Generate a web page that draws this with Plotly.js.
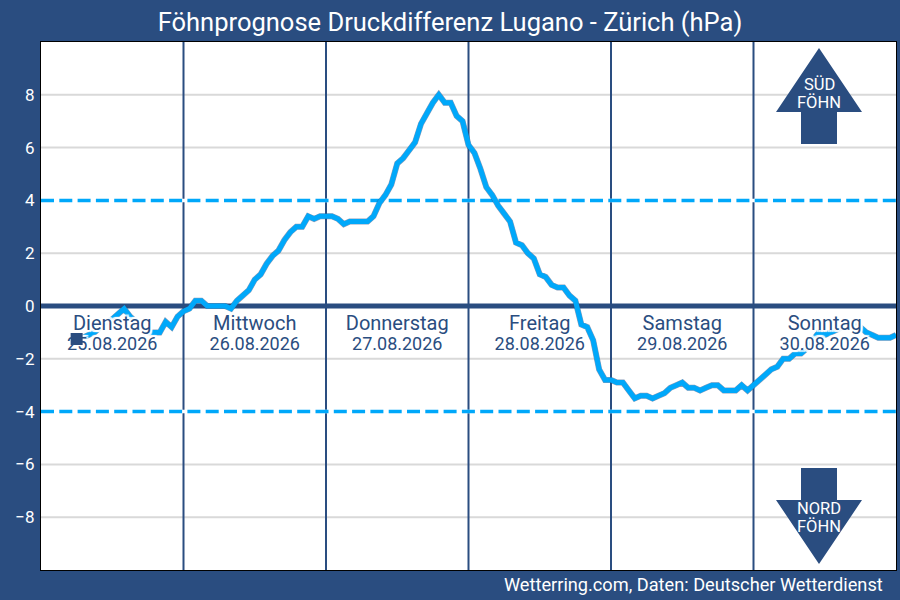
<!DOCTYPE html>
<html>
<head>
<meta charset="utf-8">
<script src="https://cdn.plot.ly/plotly-3.0.1.min.js"></script>
<style>html,body{margin:0;padding:0;background:#2a4d80;}</style>
</head>
<body>
<div id="chart" style="width:900px;height:600px;"></div>
<script>
// hours since Monday 24.08. 00:00, hourly forecast
let hours = [];
for (let h = 6; h <= 144; h++) hours.push(h);
let pressureDiff = [
    -1.25, -1.2, -1.1, -1.0, -0.8, -0.6, -0.5, -0.3, -0.1, -0.4, -0.6, -0.8, -1.0, -1.0, -1.0, -0.6, -0.8, -0.4,
    -0.2, -0.1, 0.2, 0.2, 0.0, 0.0, 0.0, 0.0, -0.1, 0.2, 0.4, 0.6, 1.0, 1.2, 1.6, 1.9, 2.1, 2.5, 2.8, 3.0, 3.0, 3.4, 3.3, 3.4,
    3.4, 3.4, 3.3, 3.1, 3.2, 3.2, 3.2, 3.2, 3.4, 3.9, 4.2, 4.6, 5.4, 5.6, 5.9, 6.2, 6.9, 7.3, 7.7, 8.0, 7.7, 7.7, 7.2, 7.0,
    6.1, 5.8, 5.2, 4.5, 4.2, 3.8, 3.5, 3.2, 2.4, 2.3, 2.0, 1.8, 1.2, 1.1, 0.8, 0.7, 0.7, 0.4, 0.2, -0.7, -0.8, -1.3, -2.4, -2.8,
    -2.8, -2.9, -2.9, -3.2, -3.5, -3.4, -3.4, -3.5, -3.4, -3.3, -3.1, -3.0, -2.9, -3.1, -3.1, -3.2, -3.1, -3.0, -3.0, -3.2, -3.2, -3.2, -3.0, -3.2,
    -3.0, -2.8, -2.6, -2.4, -2.3, -2.0, -2.0, -1.8, -1.8, -1.6, -1.3, -1.0, -1.1, -1.0, -0.9, -0.8, -0.7, -0.6, -0.8, -1.0, -1.1, -1.2, -1.2, -1.2, -1.1
];
let dayNames = ['Dienstag', 'Mittwoch', 'Donnerstag', 'Freitag', 'Samstag', 'Sonntag'];
let dayDates = ['25.08.2026', '26.08.2026', '27.08.2026', '28.08.2026', '29.08.2026', '30.08.2026'];
let dayCenters = [12, 36, 60, 84, 108, 132];
let dayBorders = [24, 48, 72, 96, 120];
let yTicks = [-8, -6, -4, -2, 0, 2, 4, 6, 8];
let gridValues = [-8, -6, -2, 2, 6, 8];
let foehnLimits = [4, -4];

const navy = '#2a4d80';
const cyan = '#00a8fa';
const font = 'Roboto, sans-serif';
const halo = '#fff 2px 0 1px, #fff -2px 0 1px, #fff 0 2px 1px, #fff 0 -2px 1px, #fff 2px 2px 1px, #fff -2px -2px 1px, #fff 2px -2px 1px, #fff -2px 2px 1px';

function dayText(text, yValue, size) {
    return {
        type: 'scatter',
        mode: 'text',
        x: dayCenters,
        y: dayCenters.map(() => yValue),
        text: text,
        textposition: 'middle center',
        textfont: {family: font, size: size, color: navy, shadow: halo},
        hoverinfo: 'skip'
    };
}

let data = [
    {
        type: 'scatter',
        mode: 'lines',
        x: hours,
        y: pressureDiff,
        line: {color: 'rgba(42,77,128,0.55)', width: 6, simplify: false},
        hoverinfo: 'skip'
    },
    {
        type: 'scatter',
        mode: 'lines',
        x: hours,
        y: pressureDiff,
        line: {color: cyan, width: 5, simplify: false},
        hoverinfo: 'skip'
    },
    dayText(dayNames, -0.72, 20),
    dayText(dayDates, -1.5, 18),
    {
        type: 'scatter',
        mode: 'markers',
        x: [hours[0]],
        y: [pressureDiff[0]],
        marker: {symbol: 'square', size: 12, color: navy},
        hoverinfo: 'skip'
    }
];

// pixel position on the page -> paper coordinates
const m = {l: 41, r: 4, t: 42, b: 30};
function px(x) { return (x - m.l) / (900 - m.l - m.r); }
function py(y) { return 1 - (y - m.t) / (600 - m.t - m.b); }
function arrow(points) {
    return {
        type: 'path',
        layer: 'above',
        xref: 'paper',
        yref: 'paper',
        path: 'M' + points.map(p => px(p[0]) + ',' + py(p[1])).join('L') + 'Z',
        fillcolor: navy,
        line: {width: 0}
    };
}
function hLine(y, color, width, dash) {
    return {type: 'line', layer: 'below', xref: 'paper', yref: 'y', x0: 0, x1: 1, y0: y, y1: y,
        line: {color: color, width: width, dash: dash || 'solid'}};
}

// grid as shapes, the axis grid would sit on top of the zero and limit lines
let shapes = gridValues.map(y => hLine(y, '#d9d9d9', 2));
dayBorders.forEach(function (x) {
    shapes.push({type: 'line', layer: 'below', xref: 'x', yref: 'paper', x0: x, x1: x, y0: 0, y1: 1,
        line: {color: navy, width: 2}});
});
foehnLimits.forEach(function (y) {
    shapes.push(hLine(y, '#ffffff', 3.5));
    shapes.push(hLine(y, cyan, 3.5, '13px,5.3px'));
});
shapes.push(hLine(0, navy, 5));
shapes.push(arrow([[819, 48], [862, 112], [837, 112], [837, 144], [801, 144], [801, 112], [776, 112]]));
shapes.push(arrow([[819, 564], [862, 500], [837, 500], [837, 468], [801, 468], [801, 500], [776, 500]]));

function pageText(text, x, y, size, anchor) {
    return {
        text: text, xref: 'paper', yref: 'paper', x: px(x), y: py(y),
        xanchor: anchor, yanchor: 'middle', showarrow: false,
        font: {family: font, size: size, color: '#ffffff'}
    };
}

let layout = {
    width: 900,
    height: 600,
    margin: m,
    paper_bgcolor: navy,
    plot_bgcolor: '#ffffff',
    showlegend: false,
    title: {
        text: 'Föhnprognose Druckdifferenz Lugano - Zürich (hPa)',
        font: {family: font, size: 25.5, color: '#ffffff'},
        x: 0.5, xanchor: 'center', y: 0.963, yanchor: 'middle'
    },
    xaxis: {
        range: [0, 144],
        showgrid: false,
        zeroline: false,
        showticklabels: false,
        ticks: '',
        showline: true,
        mirror: true,
        linecolor: '#000000',
        linewidth: 1
    },
    yaxis: {
        range: [-10, 10],
        tickmode: 'array',
        tickvals: yTicks,
        ticks: '',
        ticklabelstandoff: 2,
        tickfont: {family: font, size: 17, color: '#ffffff'},
        showgrid: false,
        zeroline: false,
        showline: true,
        mirror: true,
        linecolor: '#000000',
        linewidth: 1
    },
    shapes: shapes,
    annotations: [
        pageText('Wetterring.com, Daten: Deutscher Wetterdienst', 885, 584, 18.2, 'right'),
        pageText('SÜD', 819, 84, 16.5, 'center'),
        pageText('FÖHN', 819, 102, 16.5, 'center'),
        pageText('NORD', 819, 508, 16.5, 'center'),
        pageText('FÖHN', 819, 526, 16.5, 'center')
    ]
};

Plotly.newPlot('chart', data, layout, {displayModeBar: false, staticPlot: true});
</script>
</body>
</html>
